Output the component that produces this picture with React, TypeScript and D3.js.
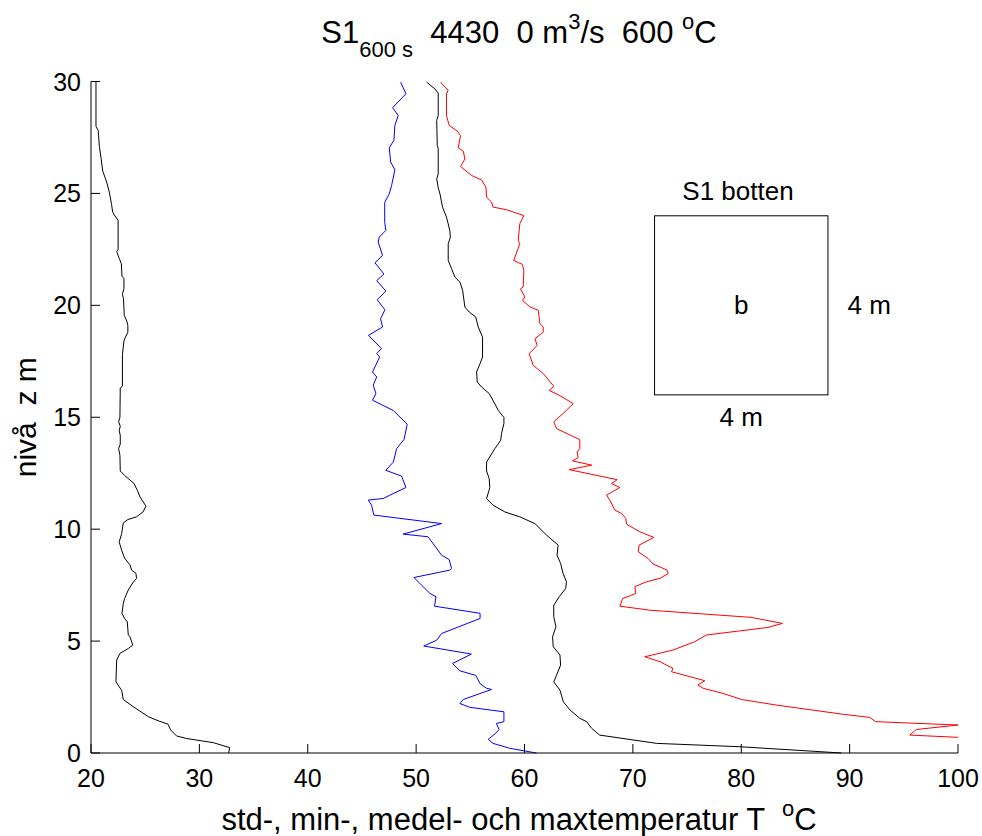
import React from "react";
import * as d3 from "d3";

// ---- data (height z in m, temperature T in °C) ----
const stdZ = [30.0,28.0,27.8,27.1,26.5,26.0,25.5,25.06,24.5,24.17,24.0,23.8,22.5,22.4,22.1,21.86,21.3,21.2,20.75,20.5,20.3,19.55,19.3,19.1,18.8,18.5,18.4,17.8,16.4,16.3,15.0,14.8,14.6,14.4,14.2,13.8,13.6,13.3,12.6,12.4,12.04,11.74,11.44,11.03,10.77,10.55,10.43,10.28,9.8,9.43,9.06,8.7,8.4,8.17,8.02,7.8,7.6,7.28,6.9,6.68,6.24,6.01,5.86,5.27,5.2,4.82,4.67,4.45,4.15,3.18,2.96,2.8,2.39,2.07,1.62,1.44,1.29,1.03,0.76,0.65,0.46,0.24,0.0];
const stdT = [20.46,20.46,20.67,20.77,20.95,21.08,21.45,21.69,21.9,22.0,22.2,22.5,22.5,22.37,22.6,22.8,22.86,23.04,23.04,22.9,23.0,23.07,23.3,23.4,23.4,23.1,23.04,22.9,22.9,22.7,22.67,22.55,22.7,22.6,22.7,22.7,22.55,22.67,22.7,23.1,23.97,24.27,24.52,25.07,24.8,24.2,23.4,22.98,22.83,22.6,22.83,23.1,23.6,23.75,24.15,24.2,23.85,23.44,23.1,22.98,22.86,23.1,23.35,23.44,23.6,23.85,23.44,22.67,22.37,22.3,22.6,22.83,22.98,23.9,25.3,26.2,27.1,27.35,27.9,28.8,31.3,32.8,32.7];

const minZ = [29.97,29.45,28.83,28.48,28.04,27.37,27.04,26.4,26.06,25.36,24.98,24.6,23.7,23.35,23.05,22.83,22.23,21.9,21.4,21.1,20.64,20.25,19.8,19.4,19.03,18.66,18.07,17.84,17.7,17.02,16.8,16.43,16.06,15.76,15.3,14.69,14.0,13.6,13.0,12.63,12.37,11.86,11.52,11.37,11.3,11.07,10.63,10.25,9.78,9.66,8.84,8.64,8.24,8.17,7.84,7.5,7.13,6.98,6.56,6.24,6.01,5.34,5.04,4.78,4.42,4.0,3.67,3.47,3.1,2.89,2.84,2.39,2.21,2.04,1.84,1.4,1.32,1.05,0.85,0.61,0.43,0.21,0.0];
const minT = [48.57,49.06,47.83,48.35,48.04,47.95,47.52,47.65,48.04,47.74,47.52,47.1,47.1,47.21,46.6,46.5,46.9,46.2,47.03,46.36,47.21,46.41,47.12,46.72,46.9,45.6,46.8,46.36,46.64,45.98,46.36,46.04,46.29,45.98,47.9,49.18,48.88,48.2,47.9,47.2,48.66,49.06,47.58,46.96,45.58,45.89,46.1,52.35,48.8,51.1,52.35,53.05,53.27,53.1,49.8,50.5,51.27,51.83,51.7,55.9,55.9,52.35,51.9,50.7,55.1,53.36,54.04,55.5,55.9,56.5,56.96,54.35,54.04,54.96,58.1,58.1,57.4,57.66,57.27,56.65,57.1,58.65,61.1];

const meanZ = [29.97,29.67,29.48,28.48,28.26,27.14,26.99,25.87,25.65,25.25,24.98,24.38,23.94,23.64,23.35,23.05,22.75,22.0,21.64,21.26,21.04,20.67,19.92,19.7,19.48,19.03,18.58,17.69,17.4,17.02,16.58,16.35,16.06,15.46,15.31,14.99,14.72,14.27,13.97,13.6,13.0,12.6,12.26,11.85,11.37,11.07,10.77,10.55,10.25,9.73,9.29,8.84,8.47,8.02,7.65,7.35,6.98,6.6,6.09,5.64,5.19,4.75,4.38,3.93,3.48,3.18,2.81,2.29,1.92,1.55,1.4,1.1,0.8,0.43,0.28,0.0];
const meanT = [50.97,51.73,52.04,52.04,51.9,51.95,52.04,52.04,51.9,52.04,52.2,52.44,52.8,52.96,53.1,53.16,52.96,52.96,53.27,53.58,54.04,54.29,54.5,54.9,55.5,55.73,56.13,56.13,55.9,55.58,55.64,56.04,56.74,57.42,57.57,58.1,58.1,57.88,57.8,57.27,56.5,56.5,56.74,56.8,56.5,57.1,58.19,59.57,60.96,62.04,63.1,63.0,63.33,63.56,63.87,63.8,63.2,62.7,62.7,62.9,62.59,62.65,63.27,63.33,62.96,62.7,63.27,63.58,64.2,65.1,65.73,66.2,66.93,72.2,79.87,89.25];

const maxZ = [29.97,29.75,29.62,29.45,28.48,28.04,27.78,27.58,27.04,26.89,26.54,26.2,25.8,25.6,25.28,24.83,24.61,24.39,24.27,24.01,23.65,22.9,22.75,22.0,21.83,21.56,20.82,20.74,20.37,20.22,19.93,19.78,19.18,19.03,18.8,18.51,18.21,17.84,17.32,16.95,16.38,16.2,15.98,15.61,15.17,14.8,14.49,14.0,13.6,13.45,13.2,13.05,12.86,12.66,12.21,12.04,11.86,11.52,11.29,10.85,10.7,10.48,10.22,9.88,9.63,9.29,8.99,8.69,8.44,8.17,8.02,7.8,7.65,7.43,7.13,7.05,6.9,6.56,6.38,6.06,5.79,5.61,5.27,4.97,4.6,4.3,4.08,3.78,3.63,3.23,3.04,2.89,2.66,2.39,2.14,1.74,1.59,1.4,1.25,1.05,0.8,0.7];
const maxT = [52.26,52.66,52.96,52.8,52.8,53.05,53.8,54.1,53.88,54.35,54.5,54.1,55.12,56.04,56.44,56.5,56.96,57.1,58.35,59.94,59.57,59.42,59.57,59.0,59.8,59.94,59.88,59.63,60.04,59.82,60.5,61.27,61.42,61.73,61.73,60.96,61.17,60.43,60.8,61.73,62.71,62.28,63.2,64.5,63.57,62.7,62.96,65.1,65.1,64.86,64.95,64.43,66.2,64.12,68.55,68.03,68.8,67.57,67.88,68.34,68.96,69.35,69.42,70.65,71.94,70.58,70.49,71.41,71.87,73.16,73.26,72.5,71.26,70.18,70.27,69.88,69.05,68.8,71.57,80.9,83.8,82.46,76.77,75.7,73.7,71.1,72.5,73.7,73.56,76.64,76.0,76.49,78.33,80.03,83.26,89.25,91.86,92.4,100.0,96.17,95.55,100.0];

const xTicks = [20, 30, 40, 50, 60, 70, 80, 90, 100];
const yTicks = [0, 5, 10, 15, 20, 25, 30];

const series = [
  { name: "std", z: stdZ, t: stdT, color: "#000000" },
  { name: "min", z: minZ, t: minT, color: "#0000ff" },
  { name: "medel", z: meanZ, t: meanT, color: "#000000" },
  { name: "max", z: maxZ, t: maxT, color: "#ff0000" },
];

// inset box (data coordinates)
const boxX = [72, 88];
const boxZ = [16, 24];

const FONT = "'Liberation Sans', Arial, Helvetica, sans-serif";

export default function App() {
  const W = 982, H = 836;
  const x = d3.scaleLinear().domain([20, 100]).range([91, 958]);
  const y = d3.scaleLinear().domain([0, 30]).range([753, 81.5]);
  const tick = 9;

  const line = (zs: number[], ts: number[]) =>
    d3.line<number>()
      .x((_, i) => x(ts[i]))
      .y((_, i) => y(zs[i]))(zs.map((_, i) => i)) || "";

  return (
    <svg width={W} height={H} style={{ position: "absolute", left: 0, top: 0, background: "#fff" }}
      fontFamily={FONT}>
      <rect x={0} y={0} width={W} height={H} fill="#fff" />
      {/* title */}
      <text x={519} y={43} fontSize={31} textAnchor="middle" style={{ whiteSpace: "pre" }} fill="#000">
        S1<tspan fontSize={22} dy={14}>600 s</tspan>
        <tspan dy={-14}>{"  4430  0 m"}</tspan>
        <tspan fontSize={22} dy={-14}>3</tspan>
        <tspan dy={14}>{"/s  600 "}</tspan>
        <tspan fontSize={22} dy={-14}>o</tspan>
        <tspan dy={14}>C</tspan>
      </text>

      {/* series */}
      {series.map((s) => (
        <path key={s.name} d={line(s.z, s.t)} fill="none" stroke={s.color} strokeWidth={1} />
      ))}

      {/* axes */}
      <g stroke="#000" strokeWidth={1} fill="none">
        <line x1={x(20)} x2={x(20)} y1={y(0)} y2={y(30)} />
        <line x1={x(20)} x2={x(100)} y1={y(0)} y2={y(0)} />
        {xTicks.map((t) => (
          <line key={"xt" + t} x1={x(t)} x2={x(t)} y1={y(0)} y2={y(0) - tick} />
        ))}
        {yTicks.map((t) => (
          <line key={"yt" + t} x1={x(20)} x2={x(20) + tick} y1={y(t)} y2={y(t)} />
        ))}
      </g>
      <g fontSize={25} fill="#000">
        {xTicks.map((t) => (
          <text key={"xl" + t} x={x(t)} y={787} textAnchor="middle">{t}</text>
        ))}
        {yTicks.map((t) => (
          <text key={"yl" + t} x={81} y={y(t) + 9} textAnchor="end">{t}</text>
        ))}
      </g>

      {/* axis labels */}
      <text x={519} y={830} fontSize={31} textAnchor="middle" style={{ whiteSpace: "pre" }} fill="#000">
        {"std-, min-, medel- och maxtemperatur T  "}
        <tspan fontSize={22} dy={-14}>o</tspan>
        <tspan dy={14}>C</tspan>
      </text>
      <text transform={`translate(36,${(y(0) + y(30)) / 2}) rotate(-90)`} fontSize={30}
        textAnchor="middle" style={{ whiteSpace: "pre" }} fill="#000">
        {"nivå  z m"}
      </text>

      {/* inset */}
      <rect x={x(boxX[0])} y={y(boxZ[1])} width={x(boxX[1]) - x(boxX[0])} height={y(boxZ[0]) - y(boxZ[1])}
        fill="none" stroke="#000" strokeWidth={1} />
      <g fontSize={26} fill="#000" textAnchor="middle">
        <text x={x(79.7)} y={y(25) + 7}>S1 botten</text>
        <text x={x(80)} y={y(20) + 9}>b</text>
        <text x={x(91.8)} y={y(20) + 9}>4 m</text>
        <text x={x(80)} y={y(15) + 9}>4 m</text>
      </g>
    </svg>
  );
}
